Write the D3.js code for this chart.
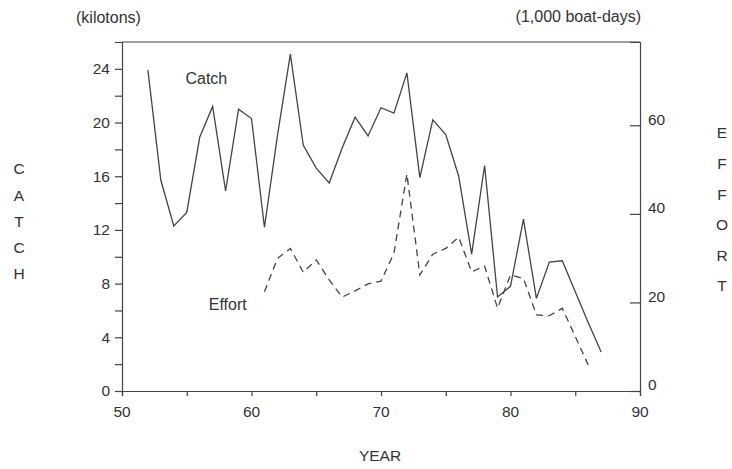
<!DOCTYPE html>
<html>
<head>
<meta charset="utf-8">
<script src="https://cdn.jsdelivr.net/npm/d3@7"></script>
<style>
  body { margin: 0; background: #fff; }
  text { font-family: "Liberation Sans", Arial, sans-serif; fill: #333; }
</style>
</head>
<body>
<div id="chart"></div>
<script>
// catch in kilotons, by year (19xx)
const catchYears = [52, 53, 54, 55, 56, 57, 58, 59, 60, 61, 62, 63, 64, 65, 66, 67, 68, 69,
  70, 71, 72, 73, 74, 75, 76, 77, 78, 79, 80, 81, 82, 83, 84, 85, 86, 87]
const catchValues = [23.9, 15.7, 12.3, 13.3, 18.9, 21.2, 14.9, 21.0, 20.3, 12.2, 19.0, 25.1,
  18.3, 16.6, 15.5, 18.1, 20.4, 19.0, 21.1, 20.7, 23.7, 15.9, 20.2, 19.1, 16.0, 10.2,
  16.8, 7.0, 7.8, 12.8, 6.9, 9.6, 9.7, 7.4, 5.1, 2.9]

// effort in 1,000 boat-days
const effortYears = [61, 62, 63, 64, 65, 66, 67, 68, 69, 70, 71, 72, 73, 74, 75, 76, 77,
  78, 79, 80, 81, 82, 83, 84, 85, 86]
const effortValues = [22.4, 29.9, 32.2, 26.8, 29.6, 25.1, 21.2, 22.6, 24.2, 24.8, 31.1,
  49.0, 26.2, 30.9, 32.2, 34.7, 26.9, 28.2, 18.7, 26.2, 25.4, 17.2, 17.0, 18.7, 12.3, 5.9]

const xTicks = [50, 60, 70, 80, 90]
const catchTicks = [0, 4, 8, 12, 16, 20, 24]
const effortTicks = [0, 20, 40, 60]

const width = 732
const height = 469
const margin = ({ top: 42, right: 92, bottom: 78, left: 122 })

const fs = 15.5

const x = d3.scaleLinear()
  .domain([50, 90])
  .range([margin.left, width - margin.right])

const yCatch = d3.scaleLinear()
  .domain([0, 26])
  .range([height - margin.bottom, margin.top])

const yEffort = d3.scaleLinear()
  .domain([0, 78.8])
  .range([height - margin.bottom, margin.top])

const svg = d3.select("#chart")
  .append("svg")
  .attr("width", width)
  .attr("height", height)

const ink = "#444"

// frame top line
svg.append("line")
  .attr("x1", margin.left).attr("x2", width - margin.right)
  .attr("y1", margin.top).attr("y2", margin.top)
  .attr("stroke", ink).attr("stroke-width", 1.2)

// x axis
svg.append("g")
  .attr("transform", `translate(0,${height - margin.bottom})`)
  .call(d3.axisBottom(x).tickValues(d3.range(50, 91, 5)).tickSize(5).tickFormat(""))
svg.append("g")
  .selectAll("text")
  .data(xTicks)
  .join("text")
  .attr("x", d => x(d))
  .attr("y", height - margin.bottom + 21)
  .attr("dy", "0.35em")
  .attr("text-anchor", "middle")
  .attr("font-size", fs)
  .text(d => d)

// left axis
svg.append("g")
  .attr("transform", `translate(${margin.left},0)`)
  .call(d3.axisLeft(yCatch).tickValues(d3.range(0, 26, 2)).tickSize(7).tickFormat(""))
svg.append("g")
  .selectAll("text")
  .data(catchTicks)
  .join("text")
  .attr("x", margin.left - 12)
  .attr("y", d => yCatch(d))
  .attr("dy", "0.35em")
  .attr("text-anchor", "end")
  .attr("font-size", fs)
  .text(d => d)

// right axis, ticks pointing inward
svg.append("g")
  .attr("transform", `translate(${width - margin.right},0)`)
  .call(d3.axisLeft(yEffort).tickValues(effortTicks).tickSize(10).tickFormat(""))
svg.append("g")
  .selectAll("text")
  .data(effortTicks)
  .join("text")
  .attr("x", width - margin.right + 8)
  .attr("y", d => yEffort(d) - 6)
  .attr("dy", "0.35em")
  .attr("text-anchor", "start")
  .attr("font-size", fs)
  .text(d => d)

svg.selectAll(".domain, .tick line")
  .attr("stroke", ink)
  .attr("stroke-width", 1.2)

// lines
const catchLine = d3.line()
  .x((d, i) => x(catchYears[i]))
  .y(d => yCatch(d))

const effortLine = d3.line()
  .x((d, i) => x(effortYears[i]))
  .y(d => yEffort(d))

svg.append("path")
  .datum(catchValues)
  .attr("fill", "none")
  .attr("stroke", ink)
  .attr("stroke-width", 1.3)
  .attr("d", catchLine)

svg.append("path")
  .datum(effortValues)
  .attr("fill", "none")
  .attr("stroke", ink)
  .attr("stroke-width", 1.3)
  .attr("stroke-dasharray", "7,5")
  .attr("d", effortLine)

// series labels
svg.append("text")
  .attr("x", x(54.9)).attr("y", yCatch(22.9))
  .attr("font-size", 16)
  .text("Catch")

svg.append("text")
  .attr("x", x(56.7)).attr("y", yCatch(6.0))
  .attr("font-size", 16)
  .text("Effort")

// unit labels
svg.append("text")
  .attr("x", 76).attr("y", 23)
  .attr("font-size", 16)
  .text("(kilotons)")

svg.append("text")
  .attr("x", 641).attr("y", 22)
  .attr("text-anchor", "end")
  .attr("font-size", 16)
  .text("(1,000 boat-days)")

// vertical stacked axis titles
svg.append("g")
  .selectAll("text")
  .data("CATCH".split(""))
  .join("text")
  .attr("x", 19)
  .attr("y", (d, i) => 169 + i * 26.2)
  .attr("dy", "0.35em")
  .attr("text-anchor", "middle")
  .attr("font-size", fs)
  .text(d => d)

svg.append("g")
  .selectAll("text")
  .data("EFFORT".split(""))
  .join("text")
  .attr("x", 722)
  .attr("y", (d, i) => 133 + i * 30.6)
  .attr("dy", "0.35em")
  .attr("text-anchor", "middle")
  .attr("font-size", fs)
  .text(d => d)

svg.append("text")
  .attr("x", 380).attr("y", 456)
  .attr("dy", "0.35em")
  .attr("text-anchor", "middle")
  .attr("font-size", fs)
  .text("YEAR")
</script>
</body>
</html>
